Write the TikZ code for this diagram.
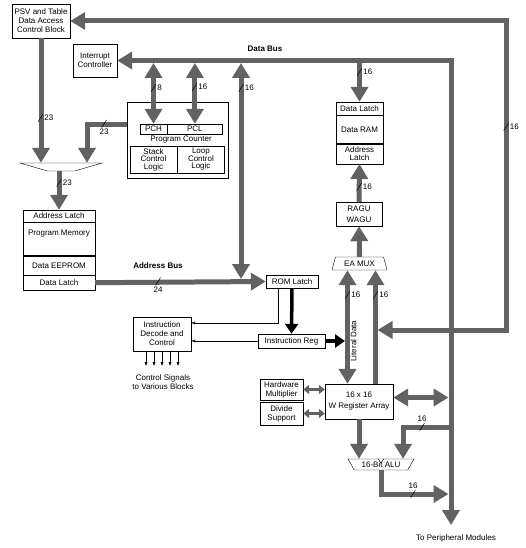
\documentclass[tikz,border=0pt]{standalone}
\usepackage{fontspec}
\setmainfont{Liberation Sans}
\usetikzlibrary{arrows.meta, positioning, shapes.geometric}
\definecolor{buscolor}{RGB}{98,98,98}

\begin{document}
\begin{tikzpicture}[
    x=1pt, y=-1pt,
    block/.style={draw, fill=white, inner sep=1pt, align=center, font=\fontsize{8}{9}\selectfont},
    muxbox/.style={block, trapezium, trapezium stretches=true, inner sep=0.5pt},
    wlbl/.style={font=\fontsize{8}{9}\selectfont, inner sep=1pt},
    slash/.style={minimum width=5pt, minimum height=8pt, inner sep=0pt, path picture={\draw[black, line width=0.5pt] (path picture bounding box.south west) -- (path picture bounding box.north east);}},
    bus/.style={draw=buscolor, line width=5pt, -{Triangle[length=15pt, width=17pt]}},
    dbus/.style={bus, {Triangle[length=15pt, width=17pt]}-{Triangle[length=15pt, width=17pt]}},
    sbus/.style={draw=buscolor, line width=3pt, {Triangle[length=6pt, width=9pt]}-{Triangle[length=6pt, width=9pt]}},
    kbus/.style={draw=black, line width=3.5pt, -{Triangle[length=10pt, width=13pt]}},
    sig/.style={draw=black, line width=0.5pt, -{Latex[length=4pt, width=3pt]}}
]
    \useasboundingbox (0,0) rectangle (526,548);

    % Program side
    \node[block, minimum width=58pt, minimum height=34pt] (psv) at (41,21) {PSV and Table\\Data Access\\Control Block};
    \node[block, minimum width=44pt, minimum height=33pt] (intc) at (95,60.5) {Interrupt\\Controller};
    \node[muxbox, shape border rotate=180, trapezium left angle=45, trapezium right angle=45, minimum width=82pt, minimum height=8pt] (amux) at (61,167) {};
    \node[block, minimum width=72pt, minimum height=12pt] (pal) at (59,216) {Address Latch};
    \node[block, minimum width=72pt, minimum height=33pt, text height=12pt, text depth=19pt, below=0pt of pal] (pmem) {Program Memory};
    \node[block, minimum width=72pt, minimum height=19pt, below=0pt of pmem] (peep) {Data EEPROM};
    \node[block, minimum width=72pt, minimum height=15pt, below=0pt of peep] (pdl) {Data Latch};

    % Program counter
    \node[block, minimum width=101pt, minimum height=76pt] (pc) at (177.5,140) {};
    \node[block, minimum width=27pt, minimum height=10pt] (pch) at (153.5,129) {PCH};
    \node[block, minimum width=55pt, minimum height=10pt, right=0pt of pch] (pcl) {PCL};
    \node[wlbl] (pclbl) at (181,139.5) {Program Counter};
    \node[block, minimum width=47pt, minimum height=27pt, font=\fontsize{8}{7.5}\selectfont] (stack) at (153.5,159.5) {Stack\\Control\\Logic};
    \node[block, minimum width=47pt, minimum height=27pt, font=\fontsize{8}{7.5}\selectfont, right=0pt of stack] (loopctl) {Loop\\Control\\Logic};

    % Data side
    \node[block, minimum width=47pt, minimum height=13pt] (rdl) at (359.5,108.5) {Data Latch};
    \node[block, minimum width=47pt, minimum height=28pt, below=0pt of rdl] (ram) {Data RAM};
    \node[block, minimum width=47pt, minimum height=20pt, font=\fontsize{8}{8}\selectfont, below=0pt of ram] (ral) {Address\\Latch};
    \node[block, minimum width=46pt, minimum height=24pt, font=\fontsize{8}{11}\selectfont] (ragu) at (359,214) {RAGU\\WAGU};
    \node[muxbox, trapezium left angle=71, trapezium right angle=71, minimum width=55pt, minimum height=13pt] (eamux) at (359.5,263.5) {EA MUX};

    % Instruction path
    \node[block, minimum width=52pt, minimum height=13pt] (rom) at (292,281.5) {ROM Latch};
    \node[block, minimum width=67pt, minimum height=14pt] (ireg) at (291.5,341) {Instruction Reg};
    \node[block, minimum width=58pt, minimum height=34pt] (dec) at (162,334) {Instruction\\Decode and\\Control};
    \node[wlbl, align=center] (ctrl) at (163,382) {Control Signals\\to Various Blocks};

    % Working registers and ALU
    \node[block, minimum width=43pt, minimum height=21pt] (hwm) at (281.5,389.5) {Hardware\\Multiplier};
    \node[block, minimum width=43pt, minimum height=23pt] (div) at (281.5,413.5) {Divide\\Support};
    \node[block, minimum width=68pt, minimum height=35pt, font=\fontsize{8}{11}\selectfont] (wreg) at (359,401.5) {16 x 16\\W Register Array};
    \node[muxbox, shape border rotate=180, trapezium left angle=56, trapezium right angle=56, minimum width=66pt, minimum height=11pt] (alu) at (381,464.5) {16-Bit ALU};
    \node[wlbl] (perlbl) at (456,538) {To Peripheral Modules};

    % Bus labels
    \node[wlbl, font=\fontsize{8}{9}\selectfont\bfseries] (dbuslbl) at (265,48.5) {Data Bus};
    \node[wlbl, font=\fontsize{8}{9}\selectfont\bfseries] (abuslbl) at (158,266) {Address Bus};
    \node[wlbl, rotate=90] (litlbl) at (353.5,341) {Literal Data};

    % Bus points
    \coordinate (loopc) at (506,330);
    \coordinate (loopin) at (377.5,330);
    \coordinate (periph) at (451,525);
    \coordinate (dbot) at (0,63);
    \coordinate (tap) at (241,63);
    \coordinate (abtop) at (0,279);
    \coordinate (alutap) at (451,427);
    \coordinate (aluret) at (448.5,494);
    \coordinate (dbl) at (448.5,0);

    % Buses
    \draw[dbus] (psv.east) -| (loopc) -- (loopin);
    \draw[dbus] (intc.east) -| (periph);
    \draw[dbus] (pch.north |- dbot) -- (pch.north);
    \draw[dbus] (pcl.north |- dbot) -- (pcl.north);
    \draw[dbus] (tap) -- (tap |- abtop);
    \draw[bus] (rdl.north |- intc.east) -- (rdl.north);
    \draw[bus] (ragu.north) -- (ral.south);
    \draw[bus] (eamux.north) -- (ragu.south);
    \draw[bus] (psv.south) -- (psv.south |- amux.north);
    \draw[bus] ([yshift=15pt]pc.west) -| ([xshift=26pt]amux.north);
    \draw[bus] (pal.north |- amux.south) -- (pal.north);
    \draw[bus] (pdl.east) -- (rom.west);
    \draw[dbus] ([xshift=-12pt]eamux.south) -- ([xshift=-12pt]eamux.south |- wreg.north);
    \draw[bus] ([xshift=16pt]eamux.south |- wreg.north) -- ([xshift=16pt]eamux.south);
    \draw[dbus] ([yshift=4pt]wreg.east) -- ([yshift=4pt]wreg.east -| dbl);
    \draw[sbus] (hwm.east) -- (hwm.east -| wreg.west);
    \draw[sbus] (div.east) -- (div.east -| wreg.west);
    \draw[bus] (wreg.south) -- (wreg.south |- alu.north);
    \draw[bus] (alutap) -| ([xshift=22pt]alu.north);
    \draw[bus] (alu.south) |- (aluret);
    \draw[black] ([xshift=-3pt]alu.north) -- ([yshift=-4pt]alu.north) -- ([xshift=3pt]alu.north);

    % Instruction flow
    \draw[kbus] (rom.south) -- (ireg.north);
    \draw[kbus] (ireg.east) -- ([xshift=-14.5pt]eamux.south |- ireg.east);
    \draw[sig] ([xshift=-13.5pt]rom.south) |- ([yshift=11pt]dec.east);
    \draw[sig] (ireg.west) -- (ireg.west -| dec.east);
    \foreach \dx in {-16,-8,0,8,16}
        \draw[sig] ([xshift=\dx pt]dec.south) -- ++(0,15);

    % Bus widths
    \node[slash, label={[wlbl]right:23}] (wpsv) at (40.5,118) {};
    \node[slash, label={[wlbl]below:23}] (wpc) at (104,124) {};
    \node[slash, label={[wlbl]right:23}] (wamux) at (59,183) {};
    \node[slash, label={[wlbl]right:8}] (wpch) at (153.5,88) {};
    \node[slash, label={[wlbl]right:16}] (wpcl) at (194.5,87) {};
    \node[slash, label={[wlbl]right:16}] (wtap) at (241,88) {};
    \node[slash, label={[wlbl]right:16}] (wrdl) at (359.5,72) {};
    \node[slash, label={[wlbl]right:16}] (wragu) at (359,187) {};
    \node[slash, label={[wlbl]right:16}] (wloop) at (506,127) {};
    \node[slash, label={[wlbl]below:24}] (wab) at (158,281.5) {};
    \node[slash, label={[wlbl]right:16}] (wlit) at (347.5,295) {};
    \node[slash, label={[wlbl]right:16}] (wea) at (375.5,295) {};
    \node[slash, label={[wlbl]above:16}] (walu) at (422,427) {};
    \node[slash, label={[wlbl]above:16}] (wout) at (413,494) {};
\end{tikzpicture}
\end{document}
